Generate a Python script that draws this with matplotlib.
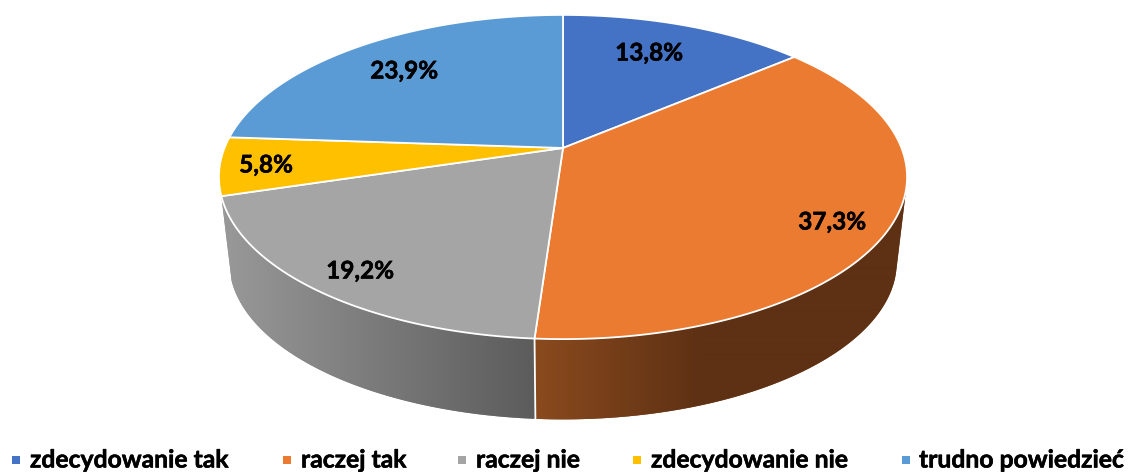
import numpy as np
import matplotlib
matplotlib.use('Agg')
import matplotlib.pyplot as plt
import matplotlib.patheffects as pe
from matplotlib.colors import LinearSegmentedColormap
from matplotlib.patches import Polygon

# Data
categories = ['zdecydowanie tak', 'raczej tak', 'raczej nie', 'zdecydowanie nie', 'trudno powiedzieć']
shares = [13.8, 37.3, 19.2, 5.8, 23.9]
labels = ['13,8%', '37,3%', '19,2%', '5,8%', '23,9%']
colors = ['#4472C4', '#EB7B31', '#A5A5A5', '#FFC000', '#5B9BD5']

plt.rcParams['font.family'] = ['Lato', 'DejaVu Sans']
plt.rcParams['font.weight'] = 'bold'

# Pie geometry, in pixels of the picture
CX, CY = 563, 148
A, B, K = 338.5, 156.9, 0.179
LOW_SCALE, LOW_Y = 0.97, 234

label_pos = [(649, 53), (832, 222), (360, 271), (266, 165), (404, 71)]
legend_x = [12, 283, 458, 633, 902]
legend_text_x = [30, 301, 476, 651, 919]
bold = [pe.withStroke(linewidth=0.4, foreground='black')]


def project(t):
    # perspective view of the unit circle, t clockwise from the top
    x, y = np.sin(t), np.cos(t)
    d = 1 + K * y
    return A * x / d, B * y / d


def top_rim(t):
    u, v = project(t)
    return CX + u, CY - v


def low_rim(t):
    u, v = project(t)
    return CX + LOW_SCALE * u, LOW_Y - LOW_SCALE * v


def hull(points):
    # monotone chain, the outline of the wall includes the straight tangent edge
    pts = sorted(set(points))

    def half(seq):
        out = []
        for p in seq:
            while len(out) > 1 and ((out[-1][0] - out[-2][0]) * (p[1] - out[-2][1])
                                    - (out[-1][1] - out[-2][1]) * (p[0] - out[-2][0])) <= 0:
                out.pop()
            out.append(p)
        return out[:-1]

    return half(pts) + half(pts[::-1])


def draw_side(ax, t1, t2, c1, c2, x1, x2):
    # gradient runs along x from c1 at x1 to c2 at x2, clipped to the wall
    cmap = LinearSegmentedColormap.from_list('side', [c1, c2])
    ts = np.linspace(t1, t2, 200)
    pts = list(zip(*top_rim(ts))) + list(zip(*low_rim(ts)))
    outline = hull([(float(a), float(b)) for a, b in pts])
    under = Polygon(outline, closed=True, fc=cmap(0.85), ec='none', zorder=0.5)
    ax.add_patch(under)
    clip = Polygon(outline, closed=True, fc='none', ec='none', transform=ax.transData)
    ax.add_patch(clip)
    xs = np.arange(200, 930)
    grad = np.clip((xs - x1) / (x2 - x1), 0, 1)[None, :]
    im = ax.imshow(grad, extent=(200, 930, 430, 100), cmap=cmap, vmin=0, vmax=1,
                   aspect='auto', zorder=1, interpolation='bilinear')
    im.set_clip_path(clip)


fig = plt.figure(figsize=(11.29, 4.72), dpi=100)
ax = fig.add_axes([0, 0, 1, 1])
ax.axis('off')

edges = 2 * np.pi * np.cumsum([0] + shares) / sum(shares)

# side wall: only the orange and grey slices face the viewer
draw_side(ax, np.radians(60), edges[2], '#5E3114', '#8A4A1E', 700, 535)
draw_side(ax, edges[2], edges[3], '#5C5C5C', '#989898', 534, 225)
ax.set_xlim(0, 1129)
ax.set_ylim(472, 0)

xs, ys = top_rim(edges[2])
xe, ye = low_rim(edges[2])
ax.plot([xs, xe], [ys, ye], color='white', lw=1.3, zorder=2)

# top face
for i, c in enumerate(colors):
    ts = np.linspace(edges[i], edges[i + 1], 200)
    x, y = top_rim(ts)
    ax.fill(np.r_[CX, x], np.r_[CY, y], facecolor=c, edgecolor='white', lw=1.3,
            joinstyle='round', zorder=3)

for (x, y), s in zip(label_pos, labels):
    ax.text(x, y, s, ha='center', va='center', fontsize=17.5, color='black',
            zorder=4, path_effects=bold)

# legend
for x, tx, c, s in zip(legend_x, legend_text_x, colors, categories):
    ax.fill([x, x + 8, x + 8, x], [456, 456, 464, 464], color=c, lw=0)
    ax.text(tx, 460, s, ha='left', va='center', fontsize=17.8, color='black', path_effects=bold)

fig.savefig('out.png', dpi=100)
